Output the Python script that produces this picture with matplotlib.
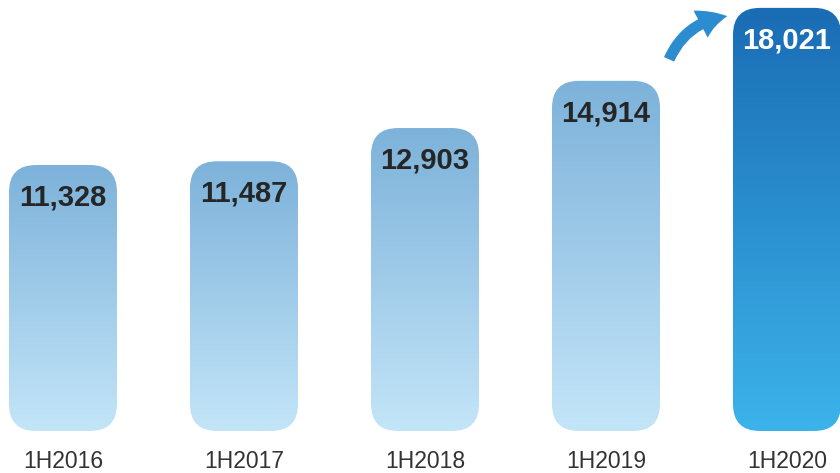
import numpy as np
import matplotlib.pyplot as plt
from matplotlib.patches import FancyBboxPatch, FancyArrowPatch
from matplotlib.colors import LinearSegmentedColormap

plt.rcParams['font.family'] = ['Liberation Sans', 'DejaVu Sans']

periods = ['1H2016', '1H2017', '1H2018', '1H2019', '1H2020']
values = [11328, 11487, 12903, 14914, 18021]
labels = ['11,328', '11,487', '12,903', '14,914', '18,021']

light_cmap = LinearSegmentedColormap.from_list('light', ['#c3e5f8', '#7db2da'])
dark_cmap = LinearSegmentedColormap.from_list('dark', ['#3cb3ea', '#1a6cb4'])

W, H = 840, 473
fig = plt.figure(figsize=(W / 100, H / 100), dpi=100)
ax = fig.add_axes([0, 0, 1, 1])
ax.axis('off')

# pixel scale: one category step = 181 px, 1 unit of value = 0.02348 px
xpx = 181.0
ypx = 0.02348
ax.set_xlim(-63 / xpx, -63 / xpx + W / xpx)
ax.set_ylim(-42 / ypx, 431 / ypx)

bw = 108 / xpx
aspect = (1 / ypx) * xpx
grad = np.linspace(0, 1, 256).reshape(-1, 1)

for i, (v, lab) in enumerate(zip(values, labels)):
    last = i == len(values) - 1
    patch = FancyBboxPatch((i - bw / 2, 0), bw, v,
                           boxstyle='round,pad=0,rounding_size=%f' % (27 / xpx),
                           mutation_aspect=aspect, fc='none', ec='none')
    ax.add_patch(patch)
    im = ax.imshow(grad, cmap=dark_cmap if last else light_cmap, origin='lower',
                   extent=[i - bw / 2, i + bw / 2, 0, v], aspect='auto',
                   interpolation='bilinear')
    im.set_clip_path(patch)
    ax.annotate(lab, (i, v), xytext=(0, -23.5), textcoords='offset points',
                ha='center', va='center', fontsize=21, fontweight='bold',
                color='white' if last else '#262626')
    ax.annotate(periods[i], (i, 0), xytext=(0, -22), textcoords='offset points',
                ha='center', va='center', fontsize=16.5, color='#333333')

# growth arrow beside the last bar
n = len(values) - 1
x0 = n - (787 - 668) / xpx
y0 = values[n] - (62 - 8) / ypx
x1 = n - (787 - 730) / xpx
y1 = values[n] - (16 - 8) / ypx
arrow = FancyArrowPatch((x0, y0), (x1, y1), connectionstyle='arc3,rad=-0.3',
                        arrowstyle='simple,head_width=22,head_length=20,tail_width=8',
                        mutation_scale=1, color='#2b8ccf', lw=0)
ax.add_patch(arrow)

fig.savefig('out.png', dpi=100)
